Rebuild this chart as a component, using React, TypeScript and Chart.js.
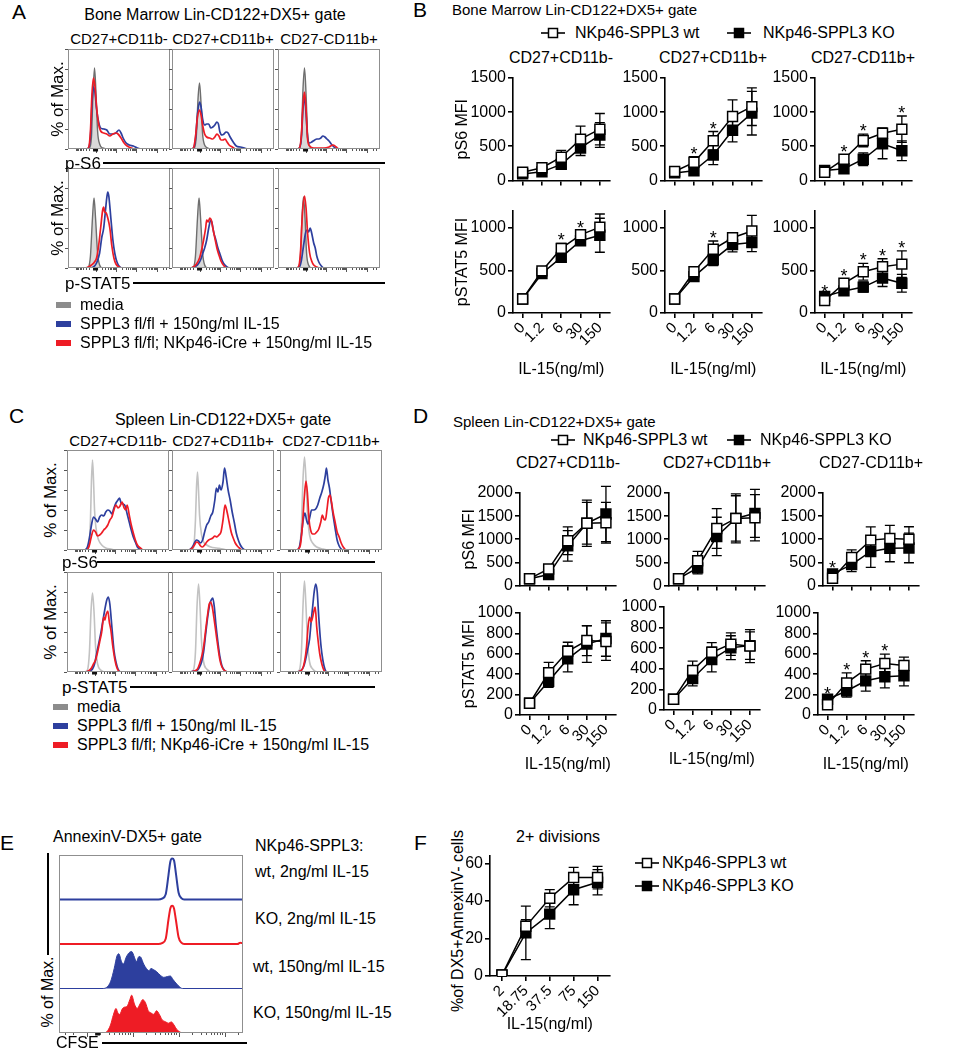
import React, { useEffect, useRef } from 'react';
import { Chart, registerables } from 'chart.js';
Chart.register(...registerables);

document.body.style.margin = '0';

const FONT = '"Liberation Sans", Arial, Helvetica, sans-serif';
const BLUE = '#2d3f9e';
const RED = '#ee1c25';
const MEDIA_LINE = '#6e6e6e';
const MEDIA_FILL = '#d9d9d9';
const PALE = '#c2c2c2';

type Pair = [number, number];

// ---------- dose-response data ----------
const doseLabels = ['0', '1.2', '6', '30', '150'];
const divLabels = ['2', '18.75', '37.5', '75', '150'];

// B: bone marrow pS6
const bS6_1_wt = [120, 185, 340, 605, 750];
const bS6_1_wtErr = [30, 40, 100, 190, 230];
const bS6_1_ko = [95, 125, 235, 475, 665];
const bS6_1_koErr = [20, 30, 50, 110, 180];
const bS6_1_sig = [0, 0, 0, 0, 0];
const bS6_2_wt = [130, 265, 580, 935, 1080];
const bS6_2_wtErr = [30, 82, 136, 246, 276];
const bS6_2_ko = [110, 140, 372, 735, 985];
const bS6_2_koErr = [20, 40, 140, 170, 320];
const bS6_2_sig = [0, 1, 1, 0, 0];
const bS6_3_wt = [120, 310, 585, 690, 750];
const bS6_3_wtErr = [30, 60, 92, 80, 193];
const bS6_3_ko = [145, 170, 310, 535, 435];
const bS6_3_koErr = [20, 40, 92, 218, 145];
const bS6_3_sig = [0, 1, 1, 0, 1];
// B: bone marrow pSTAT5
const bST_1_wt = [165, 495, 760, 920, 1010];
const bST_1_wtErr = [20, 30, 60, 50, 155];
const bST_1_ko = [165, 465, 655, 850, 915];
const bST_1_koErr = [20, 30, 50, 40, 200];
const bST_1_sig = [0, 0, 1, 1, 0];
const bST_2_wt = [165, 485, 750, 885, 965];
const bST_2_wtErr = [20, 30, 97, 47, 183];
const bST_2_ko = [165, 428, 625, 805, 830];
const bST_2_koErr = [20, 30, 67, 85, 109];
const bST_2_sig = [0, 0, 1, 0, 0];
const bST_3_wt = [145, 350, 485, 545, 575];
const bST_3_wtErr = [20, 55, 98, 93, 156];
const bST_3_ko = [195, 260, 305, 410, 350];
const bST_3_koErr = [20, 30, 60, 98, 105];
const bST_3_sig = [1, 1, 1, 1, 1];

// D: spleen pS6
const dS6_1_wt = [145, 355, 965, 1345, 1355];
const dS6_1_wtErr = [20, 60, 300, 500, 440];
const dS6_1_ko = [145, 235, 855, 1345, 1545];
const dS6_1_koErr = [20, 40, 330, 450, 600];
const dS6_1_sig = [0, 0, 0, 0, 0];
const dS6_2_wt = [145, 535, 1230, 1450, 1465];
const dS6_2_wtErr = [20, 200, 430, 530, 500];
const dS6_2_ko = [145, 380, 1060, 1450, 1560];
const dS6_2_koErr = [20, 130, 415, 490, 520];
const dS6_2_sig = [0, 0, 0, 0, 0];
const dS6_3_wt = [155, 605, 980, 1015, 1000];
const dS6_3_wtErr = [20, 165, 285, 285, 270];
const dS6_3_ko = [250, 450, 735, 805, 810];
const dS6_3_koErr = [60, 150, 343, 293, 320];
const dS6_3_sig = [1, 0, 0, 0, 0];
// D: spleen pSTAT5
const dST_1_wt = [115, 415, 625, 730, 720];
const dST_1_wtErr = [15, 100, 88, 147, 184];
const dST_1_ko = [115, 330, 550, 695, 750];
const dST_1_koErr = [15, 60, 128, 180, 174];
const dST_1_sig = [0, 0, 0, 0, 0];
const dST_2_wt = [105, 385, 560, 640, 620];
const dST_2_wtErr = [15, 90, 94, 109, 160];
const dST_2_ko = [105, 305, 490, 605, 625];
const dST_2_koErr = [15, 70, 120, 116, 133];
const dST_2_sig = [0, 0, 0, 0, 0];
const dST_3_wt = [100, 315, 450, 505, 485];
const dST_3_wtErr = [15, 98, 82, 92, 82];
const dST_3_ko = [155, 235, 335, 375, 385];
const dST_3_koErr = [20, 60, 100, 110, 100];
const dST_3_sig = [1, 1, 1, 1, 0];

// F: 2+ divisions
const fDiv_wt = [0.5, 26.5, 41.5, 52.5, 52.5];
const fDiv_wtErr = [0.5, 3.5, 4.6, 5.4, 6];
const fDiv_ko = [0.5, 23, 33, 46, 50];
const fDiv_koErr = [0.5, 14.3, 7.7, 8, 6.7];
const fDiv_sig = [0, 0, 0, 0, 0];

// ---------- histogram curves (x: % of plot width, y: % of plot height) ----------
// A: bone marrow, p-S6
const aS6_1_media: Pair[] = [[17,0],[21,1],[23,12],[24.5,55],[26,81],[27.5,55],[29,18],[31,5],[34,1],[40,0],[100,0]];
const aS6_1_wt: Pair[] = [[17,0],[20,1],[22,12],[23.5,45],[25,62],[26.5,56],[28,40],[30,27],[32,21],[35,20],[38,19],[41,15],[44,15],[47,16],[50,19],[52,16],[54,11],[57,6],[60,4],[64,3],[68,1],[72,0],[100,0]];
const aS6_1_ko: Pair[] = [[17,0],[20,1],[22,18],[23.5,55],[25,71],[26.5,62],[28,42],[30,25],[32,18],[35,16],[38,15],[41,13],[44,15],[47,16],[49,15],[52,11],[55,6],[58,3],[62,1],[66,0],[100,0]];
const aS6_2_media: Pair[] = [[18,0],[22,1],[24,15],[25.5,50],[27,66],[28.5,45],[30,15],[32,4],[35,1],[40,0],[100,0]];
const aS6_2_wt: Pair[] = [[18,0],[21,1],[23,10],[25,35],[27,47],[28.5,42],[30,30],[32,24],[34,25],[36,25],[38,21],[40,22],[42,24],[44,27],[45.5,25],[47,17],[49,14],[51,15],[53,17],[55,16],[57,12],[60,7],[63,3],[67,2],[71,1],[74,0],[100,0]];
const aS6_2_ko: Pair[] = [[18,0],[21,1],[23,12],[25,32],[27,39],[28.5,34],[30,24],[32,15],[34,12],[37,11],[40,10],[42,12],[44,15],[46,13],[48,9],[50,9],[52,10],[54,7],[56,4],[59,2],[63,0],[100,0]];
const aS6_3_media: Pair[] = [[18,0],[21,1],[23,15],[24.5,60],[26,81],[27.5,55],[29,15],[31,3],[34,0],[100,0]];
const aS6_3_wt: Pair[] = [[18,0],[21,1],[23,12],[24.5,40],[26,52],[27.5,35],[29,12],[31,6],[33,7],[36,9],[38,10],[40,10],[42,11],[44,13],[46,12],[48,10],[50,8],[53,4],[56,1],[60,0],[100,0]];
const aS6_3_ko: Pair[] = [[18,0],[21,1],[23,15],[24.5,45],[26,57],[27.5,40],[29,10],[31,3],[35,1],[45,1],[50,2],[54,4],[57,2],[60,0],[100,0]];
// A: bone marrow, p-STAT5
const aST_1_media: Pair[] = [[17,0],[20,1],[22,12],[24,50],[25.5,70],[27,50],[29,15],[31,3],[34,0],[100,0]];
const aST_1_wt: Pair[] = [[22,0],[25,1],[28,5],[31,15],[33,30],[35,40],[36.5,55],[38,70],[39,76],[40,72],[42,50],[44,28],[46,14],[48,6],[50,2],[53,0],[100,0]];
const aST_1_ko: Pair[] = [[17,0],[20,1],[23,3],[26,6],[28,10],[30,22],[32,40],[34,58],[35,61],[36,56],[37.5,55],[39,50],[41,40],[43,22],[45,10],[47,4],[50,1],[53,0],[100,0]];
const aST_2_media: Pair[] = [[18,0],[21,1],[23,12],[25,50],[26.5,70],[28,50],[30,15],[32,3],[35,0],[100,0]];
const aST_2_wt: Pair[] = [[18,0],[22,1],[25,3],[28,8],[30,14],[32,20],[34,28],[36,40],[38,48],[39,46],[41,35],[43,28],[45,20],[47,14],[49,8],[51,4],[54,1],[57,0],[100,0]];
const aST_2_ko: Pair[] = [[18,0],[21,1],[24,4],[27,10],[29,18],[31,28],[33,40],[34,48],[35.5,46],[37,50],[38.5,48],[40,40],[42,30],[44,20],[46,13],[48,7],[51,2],[54,0],[100,0]];
const aST_3_media: Pair[] = [[17,0],[20,1],[22,12],[23.5,50],[25,71],[26.5,50],[28,15],[30,3],[33,0],[100,0]];
const aST_3_wt: Pair[] = [[18,0],[21,1],[23,8],[25,22],[27,35],[28.5,38],[30,36],[31.5,40],[33,35],[35,25],[36.5,20],[38,12],[40,6],[42.5,2],[45,0],[100,0]];
const aST_3_ko: Pair[] = [[17,0],[20,1],[22,15],[24,55],[26,72],[27.5,60],[29,35],[31,15],[33,7],[35,3],[38,1],[41,0],[100,0]];

// C: spleen, p-S6
const cS6_1_media: Pair[] = [[18,0],[21,2],[23,30],[24,70],[25,90],[26,70],[27,40],[29,18],[31,10],[34,5],[38,2],[43,1],[48,0],[100,0]];
const cS6_1_wt: Pair[] = [[18,0],[20,3],[22,12],[24,25],[26,33],[28,31],[30,28],[32,33],[34,35],[36,34],[38,38],[40,40],[42,39],[44,36],[46,42],[48,47],[50,50],[51.5,52],[53,47],[55,46],[57,44],[59,36],[61,28],[63,20],[65,13],[67,8],[69,3],[72,1],[75,0],[100,0]];
const cS6_1_ko: Pair[] = [[20,0],[22,5],[24,14],[26,20],[28,18],[30,14],[32,15],[34,17],[36,20],[38,22],[40,25],[42,30],[44,33],[46,40],[48,45],[50,42],[52,44],[54,48],[56,42],[57.5,40],[59,45],[61,35],[63,25],[65,17],[67,10],[69,5],[72,2],[75,0],[100,0]];
const cS6_2_media: Pair[] = [[18,0],[21,2],[23,30],[24,62],[25,78],[26,60],[27,35],[29,15],[31,8],[34,5],[38,3],[44,2],[50,1],[55,0],[100,0]];
const cS6_2_wt: Pair[] = [[17,0],[20,3],[22,7],[24,10],[26,9],[28,7],[30,10],[32,18],[34,25],[36,28],[38,34],[40,38],[42,50],[43.5,62],[45,58],[46.5,65],[48,60],[50,68],[51.5,82],[53,74],[55,60],[57,50],[59,38],[61,28],[63,17],[65,10],[67,5],[69,2],[72,0],[100,0]];
const cS6_2_ko: Pair[] = [[17,0],[20,2],[22,5],[24,8],[26,7],[28,4],[30,3],[32,5],[34,8],[36,10],[38,11],[40,12],[42,14],[44,13],[46,15],[48,18],[50,30],[52,45],[54,38],[56,28],[58,18],[60,12],[62,7],[64,4],[66,2],[69,0],[100,0]];
const cS6_3_media: Pair[] = [[16,0],[19,2],[21,25],[22.5,70],[24,93],[25.5,70],[27,35],[29,15],[32,7],[36,3],[42,1],[48,0],[100,0]];
const cS6_3_wt: Pair[] = [[17,0],[19,3],[21,15],[23,32],[24.5,37],[26,30],[27.5,26],[29,32],[31,40],[33,40],[35,41],[37,45],[39,52],[41,58],[43,66],[44.5,75],[45.5,82],[47,70],[48.5,62],[50,50],[52,35],[54,22],[56,10],[58,4],[60,1],[62,0],[100,0]];
const cS6_3_ko: Pair[] = [[17,0],[20,5],[22,25],[24,55],[25.5,69],[27,55],[28.5,30],[30,20],[32,16],[34,16],[36,18],[38,21],[40,28],[41.5,35],[43,31],[44.5,30],[46,40],[47.5,52],[49,55],[50.5,48],[52,38],[54,28],[56,18],[58,13],[60,7],[62,3],[65,0],[100,0]];
// C: spleen, p-STAT5
const cST_1_media: Pair[] = [[17,0],[20,2],[22,20],[23.5,60],[25,79],[26.5,60],[28,25],[30,8],[33,2],[38,0],[100,0]];
const cST_1_wt: Pair[] = [[18,0],[22,1],[25,3],[27,8],[29,18],[31,28],[33,38],[35,50],[37,62],[39,72],[40.5,75],[42,68],[44,45],[46,22],[48,10],[50,3],[53,0],[100,0]];
const cST_1_ko: Pair[] = [[18,0],[21,1],[24,4],[26,8],[28,12],[30,20],[32,30],[34,40],[36,55],[37,52],[38.5,58],[40,61],[41.5,50],[43,42],[45,25],[47,12],[49,4],[52,0],[100,0]];
const cST_2_media: Pair[] = [[18,0],[21,2],[23,20],[24.5,65],[26,88],[27.5,65],[29,30],[31,10],[34,3],[40,0],[100,0]];
const cST_2_wt: Pair[] = [[18,0],[22,1],[25,2],[27,5],[29,10],[31,20],[33,38],[35,55],[37,68],[38.5,72],[40,74],[41.5,65],[43,48],[45,30],[47,15],[49,6],[52,1],[55,0],[100,0]];
const cST_2_ko: Pair[] = [[18,0],[22,1],[25,3],[27,8],[29,15],[31,25],[33,42],[35,58],[36.5,68],[38,70],[39.5,65],[41,55],[43,40],[45,25],[47,12],[49,5],[52,1],[55,0],[100,0]];
const cST_3_media: Pair[] = [[16,0],[19,2],[21,20],[22.5,65],[24,91],[25.5,65],[27,30],[29,10],[32,3],[37,0],[100,0]];
const cST_3_wt: Pair[] = [[17,0],[20,1],[23,5],[25,12],[27,22],[29,33],[30.5,50],[32,65],[33.5,80],[35,88],[36.5,80],[38,55],[40,28],[42,12],[44,3],[46,0],[100,0]];
const cST_3_ko: Pair[] = [[17,0],[20,1],[22,3],[24,10],[26,25],[27.5,45],[29,55],[30.5,50],[32,55],[33.5,62],[34.5,65],[36,45],[37.5,30],[39,18],[41,8],[43,2],[45,0],[100,0]];

// E: CFSE dilution (y: % of row height)
const eWt2: Pair[] = [[0,0],[54,0],[56,2],[58,12],[59.5,55],[60.5,85],[61.5,92],[62.5,88],[63.5,60],[65,15],[66.5,3],[68,0],[100,0]];
const eKo2: Pair[] = [[0,0],[54,0],[56,2],[58,12],[59.5,55],[60.5,80],[61.5,86],[62.5,80],[63.5,55],[65,15],[66.5,3],[68,0],[97,0],[98.5,3],[100,1]];
const eWt150: Pair[] = [[0,0],[24,0],[26,3],[28,15],[30,45],[31.5,73],[32.5,78],[34,60],[35,55],[36.5,70],[38,80],[39.5,83],[41,70],[42,60],[43.5,72],[44.5,70],[46,55],[47.5,45],[49,40],[50,45],[51.5,42],[53,38],[55,30],[57,25],[59,27],[60.5,28],[62,20],[64,10],[65.5,4],[67,0],[100,0]];
const eKo150: Pair[] = [[0,0],[24,0],[26,3],[28,18],[29.5,40],[31,55],[32,45],[33,42],[34.5,55],[35.5,58],[37,60],[38.5,75],[39.5,85],[41,65],[42.5,55],[44,65],[45.5,75],[47,68],[48.5,50],[50,45],[51.5,42],[53,50],[54.5,42],[56,30],[58,25],[59.5,22],[61,25],[62.5,18],[64,8],[65.5,3],[67,0],[100,0]];

// ---------- helpers ----------
function ChartCanvas({ left, top, width, height, make }: any) {
  const ref = useRef<HTMLCanvasElement>(null);
  useEffect(() => {
    const chart = new Chart(ref.current as HTMLCanvasElement, make());
    return () => chart.destroy();
  }, []);
  return (
    <canvas ref={ref} width={width} height={height}
      style={{ position: 'absolute', left, top, width, height }} />
  );
}

function T({ x, y, s = 16, a = 'l', r = false, children }: any) {
  const tx = a === 'l' ? '0' : a === 'c' ? '-50%' : '-100%';
  return (
    <div style={{
      position: 'absolute', left: x, top: y, fontSize: s, lineHeight: 1, whiteSpace: 'nowrap',
      transform: r ? 'translate(-50%,-50%) rotate(-90deg)' : `translate(${tx},-50%)`,
    }}>{children}</div>
  );
}

function HLine({ x1, x2, y, t = 2 }: any) {
  return <div style={{ position: 'absolute', left: x1, top: y - t / 2, width: x2 - x1, height: t, background: '#000' }} />;
}

function Swatch({ x, y, color }: any) {
  return <div style={{ position: 'absolute', left: x, top: y - 3, width: 15, height: 6, background: color }} />;
}

function Marker({ x, y, filled }: any) {
  return (
    <svg style={{ position: 'absolute', left: x, top: y - 7 }} width={24} height={14}>
      <line x1={0} y1={7} x2={24} y2={7} stroke="#000" strokeWidth={1.6} />
      <rect x={7.5} y={2.5} width={9} height={9} fill={filled ? '#000' : '#fff'} stroke="#000" strokeWidth={1.5} />
    </svg>
  );
}

const flowMajors = [27, 47, 67, 87];

function flowPlugin(majors: number[], origin: number, leftTicks: boolean) {
  return {
    id: 'flowBox',
    afterDraw(chart: any) {
      const { ctx, chartArea: a, scales } = chart;
      const xs = scales.x, ys = scales.y;
      ctx.save();
      ctx.strokeStyle = '#8f8f8f';
      ctx.lineWidth = 1;
      ctx.strokeRect(a.left + 0.5, a.top + 0.5, a.right - a.left - 1, a.bottom - a.top - 1);
      ctx.strokeStyle = '#555';
      ctx.beginPath();
      if (leftTicks) {
        for (let v = 0; v <= 100; v += 20) {
          const py = Math.round(ys.getPixelForValue(v * ys.max / 100)) + 0.5;
          ctx.moveTo(a.left, py); ctx.lineTo(a.left - 3, py);
        }
      }
      const dec = majors[1] - majors[0];
      const tickAt = (v: number, len: number) => {
        if (v < 1 || v > 99) return;
        const px = Math.round(xs.getPixelForValue(v)) + 0.5;
        ctx.moveTo(px, a.bottom); ctx.lineTo(px, a.bottom + len);
      };
      majors.forEach((m) => {
        tickAt(m, 4);
        for (let k = 2; k <= 9; k++) tickAt(m + dec * Math.log10(k), 2);
      });
      for (let k = 2; k <= 9; k++) tickAt(majors[0] - dec * Math.log10(k), 2);
      ctx.stroke();
      ctx.fillStyle = '#111';
      const ox = xs.getPixelForValue(origin);
      ctx.fillRect(ox - 2.5, a.bottom, 5, 2.5);
      ctx.restore();
    },
  };
}

interface Curve { pts: Pair[]; color: string; fill?: string; base?: number; lw?: number }

function Hist({ x, y, w, h, curves, yMax = 100, majors = flowMajors, origin = 27, leftTicks = true }: any) {
  const pad = { left: 5, bottom: 5, top: 1, right: 1 };
  return (
    <ChartCanvas left={x - pad.left} top={y - pad.top} width={w + pad.left + pad.right} height={h + pad.top + pad.bottom}
      make={() => ({
        type: 'line',
        data: {
          datasets: (curves as Curve[]).map((c) => ({
            data: c.pts.map(([px, py]) => ({ x: px, y: (c.base ?? 0) + py * (yMax === 100 ? 1 : 0.01) })),
            borderColor: c.color,
            borderWidth: c.lw ?? 1.7,
            backgroundColor: c.fill ?? 'transparent',
            fill: c.fill ? { value: c.base ?? 0 } : false,
            pointRadius: 0,
            cubicInterpolationMode: 'monotone',
          })),
        },
        options: {
          responsive: false, animation: false, events: [],
          layout: { padding: pad },
          plugins: { legend: { display: false }, tooltip: { enabled: false } },
          scales: {
            x: { type: 'linear', min: 0, max: 100, display: false },
            y: { type: 'linear', min: 0, max: yMax, display: false },
          },
        },
        plugins: [flowPlugin(majors, origin, leftTicks)],
      })} />
  );
}

function flowSet(media: Pair[], wt: Pair[], ko: Pair[], bm: boolean): Curve[] {
  return [
    { pts: ko, color: RED },
    { pts: wt, color: BLUE },
    bm ? { pts: media, color: MEDIA_LINE, fill: MEDIA_FILL, lw: 1.4 } : { pts: media, color: PALE, lw: 1.6 },
  ];
}

function DoseChart({ ax, top, w, h, yMax, step, labels = doseLabels, wt, wtErr, ko, koErr, sig, xLabels, xTitle, yTitle, LW = 60, BH }: any) {
  const TP = 14, RP = 8;
  const font = { family: FONT, size: 16 };
  const xFont = { family: FONT, size: 15 };
  const errPlugin = {
    id: 'errbars',
    beforeDatasetsDraw(chart: any) {
      const { ctx } = chart;
      const xs = chart.scales.x, ys = chart.scales.y;
      ctx.save();
      ctx.strokeStyle = '#000';
      ctx.lineWidth = 1.3;
      const sets: [number[], number[]][] = [[ko, koErr], [wt, wtErr]];
      sets.forEach(([vals, errs]) => {
        vals.forEach((v, i) => {
          const px = xs.getPixelForValue(i);
          const yHi = ys.getPixelForValue(v + errs[i]);
          const yLo = ys.getPixelForValue(Math.max(0, v - errs[i]));
          ctx.beginPath();
          ctx.moveTo(px, yLo); ctx.lineTo(px, yHi);
          ctx.moveTo(px - 5, yHi); ctx.lineTo(px + 5, yHi);
          ctx.moveTo(px - 5, yLo); ctx.lineTo(px + 5, yLo);
          ctx.stroke();
        });
      });
      ctx.restore();
    },
    afterDatasetsDraw(chart: any) {
      const { ctx } = chart;
      const xs = chart.scales.x, ys = chart.scales.y;
      ctx.save();
      ctx.fillStyle = '#000';
      ctx.font = `18px ${FONT}`;
      ctx.textAlign = 'center';
      ctx.textBaseline = 'alphabetic';
      sig.forEach((s: number, i: number) => {
        if (!s) return;
        const topVal = Math.max(wt[i] + wtErr[i], ko[i] + koErr[i]);
        ctx.fillText('*', xs.getPixelForValue(i), ys.getPixelForValue(topVal) + 3);
      });
      ctx.restore();
    },
  };
  const axisBorder = { display: true, color: '#000', width: 1.6 };
  const axisGrid = { display: true, drawOnChartArea: false, drawTicks: true, tickLength: 5, color: '#000', lineWidth: 1.6 };
  return (
    <ChartCanvas left={ax - LW} top={top - TP} width={LW + w + RP} height={TP + h + BH}
      make={() => ({
        type: 'line',
        data: {
          labels,
          datasets: [
            { data: wt, borderColor: '#000', borderWidth: 1.5, pointStyle: 'rect', pointRadius: 7, pointBackgroundColor: '#fff', pointBorderColor: '#000', pointBorderWidth: 1.5, tension: 0 },
            { data: ko, borderColor: '#000', borderWidth: 1.5, pointStyle: 'rect', pointRadius: 7, pointBackgroundColor: '#000', pointBorderColor: '#000', pointBorderWidth: 1.5, tension: 0 },
          ],
        },
        options: {
          responsive: false, animation: false, events: [],
          layout: { padding: { top: TP, right: RP, left: 0, bottom: 0 } },
          plugins: { legend: { display: false }, tooltip: { enabled: false } },
          scales: {
            x: {
              type: 'category', offset: true, border: axisBorder, grid: axisGrid,
              ticks: { display: !!xLabels, minRotation: 45, maxRotation: 45, autoSkip: false, font: xFont, color: '#000', padding: 1 },
              title: { display: !!xTitle, text: xTitle, font, color: '#000', padding: 0 },
              afterFit: (s: any) => { s.height = BH; },
            },
            y: {
              type: 'linear', min: 0, max: yMax, border: axisBorder, grid: axisGrid,
              ticks: { stepSize: step, autoSkip: false, font, color: '#000', padding: 2, callback: (v: any) => String(v) },
              afterBuildTicks: (s: any) => {
                const t: any[] = [];
                for (let v = 0; v <= yMax + 1e-9; v += step) t.push({ value: v });
                s.ticks = t;
              },
              title: { display: !!yTitle, text: yTitle, font, color: '#000', padding: 0 },
              afterFit: (s: any) => { s.width = LW; },
            },
          },
        },
        plugins: [errPlugin],
      })} />
  );
}

// ---------- layout ----------
const A_X = [68, 172, 278];
const A_Y = [49, 168];
const C_X = [67, 172, 280];
const C_Y = [450, 572];
const HW = 102;
const HH = 100;

const B_AX = [513, 665, 815];
const D_AX_TOP = [520, 669, 823];
const D_AX_BOT = [520, 664, 818];

export default function App() {
  const aRows = [
    [flowSet(aS6_1_media, aS6_1_wt, aS6_1_ko, true), flowSet(aS6_2_media, aS6_2_wt, aS6_2_ko, true), flowSet(aS6_3_media, aS6_3_wt, aS6_3_ko, true)],
    [flowSet(aST_1_media, aST_1_wt, aST_1_ko, true), flowSet(aST_2_media, aST_2_wt, aST_2_ko, true), flowSet(aST_3_media, aST_3_wt, aST_3_ko, true)],
  ];
  const cRows = [
    [flowSet(cS6_1_media, cS6_1_wt, cS6_1_ko, false), flowSet(cS6_2_media, cS6_2_wt, cS6_2_ko, false), flowSet(cS6_3_media, cS6_3_wt, cS6_3_ko, false)],
    [flowSet(cST_1_media, cST_1_wt, cST_1_ko, false), flowSet(cST_2_media, cST_2_wt, cST_2_ko, false), flowSet(cST_3_media, cST_3_wt, cST_3_ko, false)],
  ];
  const subsets = ['CD27+CD11b-', 'CD27+CD11b+', 'CD27-CD11b+'];
  const bTop = [
    [bS6_1_wt, bS6_1_wtErr, bS6_1_ko, bS6_1_koErr, bS6_1_sig],
    [bS6_2_wt, bS6_2_wtErr, bS6_2_ko, bS6_2_koErr, bS6_2_sig],
    [bS6_3_wt, bS6_3_wtErr, bS6_3_ko, bS6_3_koErr, bS6_3_sig],
  ];
  const bBot = [
    [bST_1_wt, bST_1_wtErr, bST_1_ko, bST_1_koErr, bST_1_sig],
    [bST_2_wt, bST_2_wtErr, bST_2_ko, bST_2_koErr, bST_2_sig],
    [bST_3_wt, bST_3_wtErr, bST_3_ko, bST_3_koErr, bST_3_sig],
  ];
  const dTop = [
    [dS6_1_wt, dS6_1_wtErr, dS6_1_ko, dS6_1_koErr, dS6_1_sig],
    [dS6_2_wt, dS6_2_wtErr, dS6_2_ko, dS6_2_koErr, dS6_2_sig],
    [dS6_3_wt, dS6_3_wtErr, dS6_3_ko, dS6_3_koErr, dS6_3_sig],
  ];
  const dBot = [
    [dST_1_wt, dST_1_wtErr, dST_1_ko, dST_1_koErr, dST_1_sig],
    [dST_2_wt, dST_2_wtErr, dST_2_ko, dST_2_koErr, dST_2_sig],
    [dST_3_wt, dST_3_wtErr, dST_3_ko, dST_3_koErr, dST_3_sig],
  ];
  const dBotTop = [613, 607, 613];
  const dBotH = [102, 103, 102];

  const eCurves: Curve[] = [
    { pts: eWt2, color: BLUE, base: 3, lw: 2 },
    { pts: eKo2, color: RED, base: 2, lw: 2 },
    { pts: eWt150, color: BLUE, fill: BLUE, base: 1, lw: 1 },
    { pts: eKo150, color: RED, fill: RED, base: 0, lw: 1 },
  ];

  return (
    <div style={{ position: 'relative', width: 956, height: 1050, overflow: 'hidden', background: '#fff', fontFamily: FONT, color: '#000' }}>
      {/* ---------- Panel A ---------- */}
      <T x={12} y={11} s={21}>A</T>
      <T x={215} y={15} a="c">Bone Marrow Lin-CD122+DX5+ gate</T>
      {subsets.map((s, i) => <T key={'as' + i} x={A_X[i] + HW / 2} y={38} a="c" s={15}>{s}</T>)}
      {aRows.map((row, r) => row.map((curves, i) => (
        <Hist key={`a${r}${i}`} x={A_X[i]} y={A_Y[r]} w={HW} h={HH} curves={curves} />
      )))}
      <T x={57} y={99} r s={17}>% of Max.</T>
      <T x={57} y={218} r s={17}>% of Max.</T>
      <T x={65} y={163} s={17}>p-S6</T>
      <HLine x1={103} x2={385} y={163} />
      <T x={65} y={283} s={17}>p-STAT5</T>
      <HLine x1={133} x2={385} y={283} />
      <Swatch x={56} y={305} color="#8c8c8c" />
      <T x={80} y={305}>media</T>
      <Swatch x={56} y={324} color={BLUE} />
      <T x={80} y={324}>SPPL3 fl/fl + 150ng/ml IL-15</T>
      <Swatch x={56} y={343} color={RED} />
      <T x={80} y={343}>SPPL3 fl/fl; NKp46-iCre + 150ng/ml IL-15</T>

      {/* ---------- Panel B ---------- */}
      <T x={413} y={9} s={21}>B</T>
      <T x={452} y={9} s={15}>Bone Marrow Lin-CD122+DX5+ gate</T>
      <Marker x={541} y={33} filled={false} />
      <T x={575} y={33}>NKp46-SPPL3 wt</T>
      <Marker x={727} y={33} filled />
      <T x={763} y={33}>NKp46-SPPL3 KO</T>
      {subsets.map((s, i) => <T key={'bs' + i} x={B_AX[i] + 48} y={58} a="c">{s}</T>)}
      {bTop.map((d, i) => (
        <DoseChart key={'bt' + i} ax={B_AX[i]} top={78} w={97} h={104} yMax={1500} step={500}
          wt={d[0]} wtErr={d[1]} ko={d[2]} koErr={d[3]} sig={d[4]} xLabels={false} BH={10}
          yTitle={i === 0 ? 'pS6 MFI' : undefined} />
      ))}
      {bBot.map((d, i) => (
        <DoseChart key={'bb' + i} ax={B_AX[i]} top={211} w={97} h={102} yMax={1200} step={500}
          wt={d[0]} wtErr={d[1]} ko={d[2]} koErr={d[3]} sig={d[4]} xLabels BH={66} xTitle="IL-15(ng/ml)"
          yTitle={i === 0 ? 'pSTAT5 MFI' : undefined} />
      ))}

      {/* ---------- Panel C ---------- */}
      <T x={9} y={415} s={21}>C</T>
      <T x={223} y={420} a="c">Spleen Lin-CD122+DX5+ gate</T>
      {subsets.map((s, i) => <T key={'cs' + i} x={C_X[i] + HW / 2} y={440} a="c" s={15}>{s}</T>)}
      {cRows.map((row, r) => row.map((curves, i) => (
        <Hist key={`c${r}${i}`} x={C_X[i]} y={C_Y[r]} w={HW} h={HH} curves={curves} />
      )))}
      <T x={50} y={500} r s={17}>% of Max.</T>
      <T x={50} y={622} r s={17}>% of Max.</T>
      <T x={62} y={562} s={17}>p-S6</T>
      <HLine x1={97} x2={375} y={562} />
      <T x={62} y={687} s={17}>p-STAT5</T>
      <HLine x1={130} x2={375} y={687} />
      <Swatch x={53} y={707} color="#8c8c8c" />
      <T x={77} y={707}>media</T>
      <Swatch x={53} y={726} color={BLUE} />
      <T x={77} y={726}>SPPL3 fl/fl + 150ng/ml IL-15</T>
      <Swatch x={53} y={745} color={RED} />
      <T x={77} y={745}>SPPL3 fl/fl; NKp46-iCre + 150ng/ml IL-15</T>

      {/* ---------- Panel D ---------- */}
      <T x={413} y={415} s={21}>D</T>
      <T x={453} y={421} s={15}>Spleen Lin-CD122+DX5+ gate</T>
      <Marker x={551} y={440} filled={false} />
      <T x={583} y={440}>NKp46-SPPL3 wt</T>
      <Marker x={727} y={440} filled />
      <T x={760} y={440}>NKp46-SPPL3 KO</T>
      {subsets.map((s, i) => <T key={'ds' + i} x={D_AX_TOP[i] + 48} y={463} a="c">{s}</T>)}
      {dTop.map((d, i) => (
        <DoseChart key={'dt' + i} ax={D_AX_TOP[i]} top={493} w={96} h={94} yMax={2000} step={500}
          wt={d[0]} wtErr={d[1]} ko={d[2]} koErr={d[3]} sig={d[4]} xLabels={false} BH={10}
          yTitle={i === 0 ? 'pS6 MFI' : undefined} />
      ))}
      {dBot.map((d, i) => (
        <DoseChart key={'db' + i} ax={D_AX_BOT[i]} top={dBotTop[i]} w={96} h={dBotH[i]} yMax={1000} step={200}
          wt={d[0]} wtErr={d[1]} ko={d[2]} koErr={d[3]} sig={d[4]} xLabels BH={59} xTitle="IL-15(ng/ml)"
          yTitle={i === 0 ? 'pSTAT5 MFI' : undefined} />
      ))}

      {/* ---------- Panel E ---------- */}
      <T x={0} y={842} s={21}>E</T>
      <T x={53} y={837}>AnnexinV-DX5+ gate</T>
      <T x={255} y={846}>NKp46-SPPL3:</T>
      <T x={255} y={872}>wt, 2ng/ml IL-15</T>
      <T x={255} y={919}>KO, 2ng/ml IL-15</T>
      <T x={253} y={967}>wt, 150ng/ml IL-15</T>
      <T x={253} y={1013}>KO, 150ng/ml IL-15</T>
      <div style={{ position: 'absolute', left: 47, top: 853, width: 2, height: 102, background: '#000' }} />
      <T x={48} y={992} r>% of Max.</T>
      <Hist x={59} y={855} w={184} h={178} yMax={4} curves={eCurves} majors={[15, 40, 65, 90]} origin={21} leftTicks={false} />
      <T x={56} y={1043}>CFSE</T>
      <HLine x1={102} x2={247} y={1043} />

      {/* ---------- Panel F ---------- */}
      <T x={414} y={842} s={21}>F</T>
      <T x={558} y={837} a="c">2+ divisions</T>
      <T x={458} y={921} r>%of DX5+AnnexinV- cells</T>
      <DoseChart ax={490} top={855.5} w={120} h={120.5} yMax={64} step={20} labels={divLabels}
        wt={fDiv_wt} wtErr={fDiv_wtErr} ko={fDiv_ko} koErr={fDiv_koErr} sig={fDiv_sig}
        xLabels BH={58} xTitle="IL-15(ng/ml)" LW={42} />
      <Marker x={635} y={863} filled={false} />
      <T x={662} y={863}>NKp46-SPPL3 wt</T>
      <Marker x={635} y={886} filled />
      <T x={662} y={886}>NKp46-SPPL3 KO</T>
    </div>
  );
}
